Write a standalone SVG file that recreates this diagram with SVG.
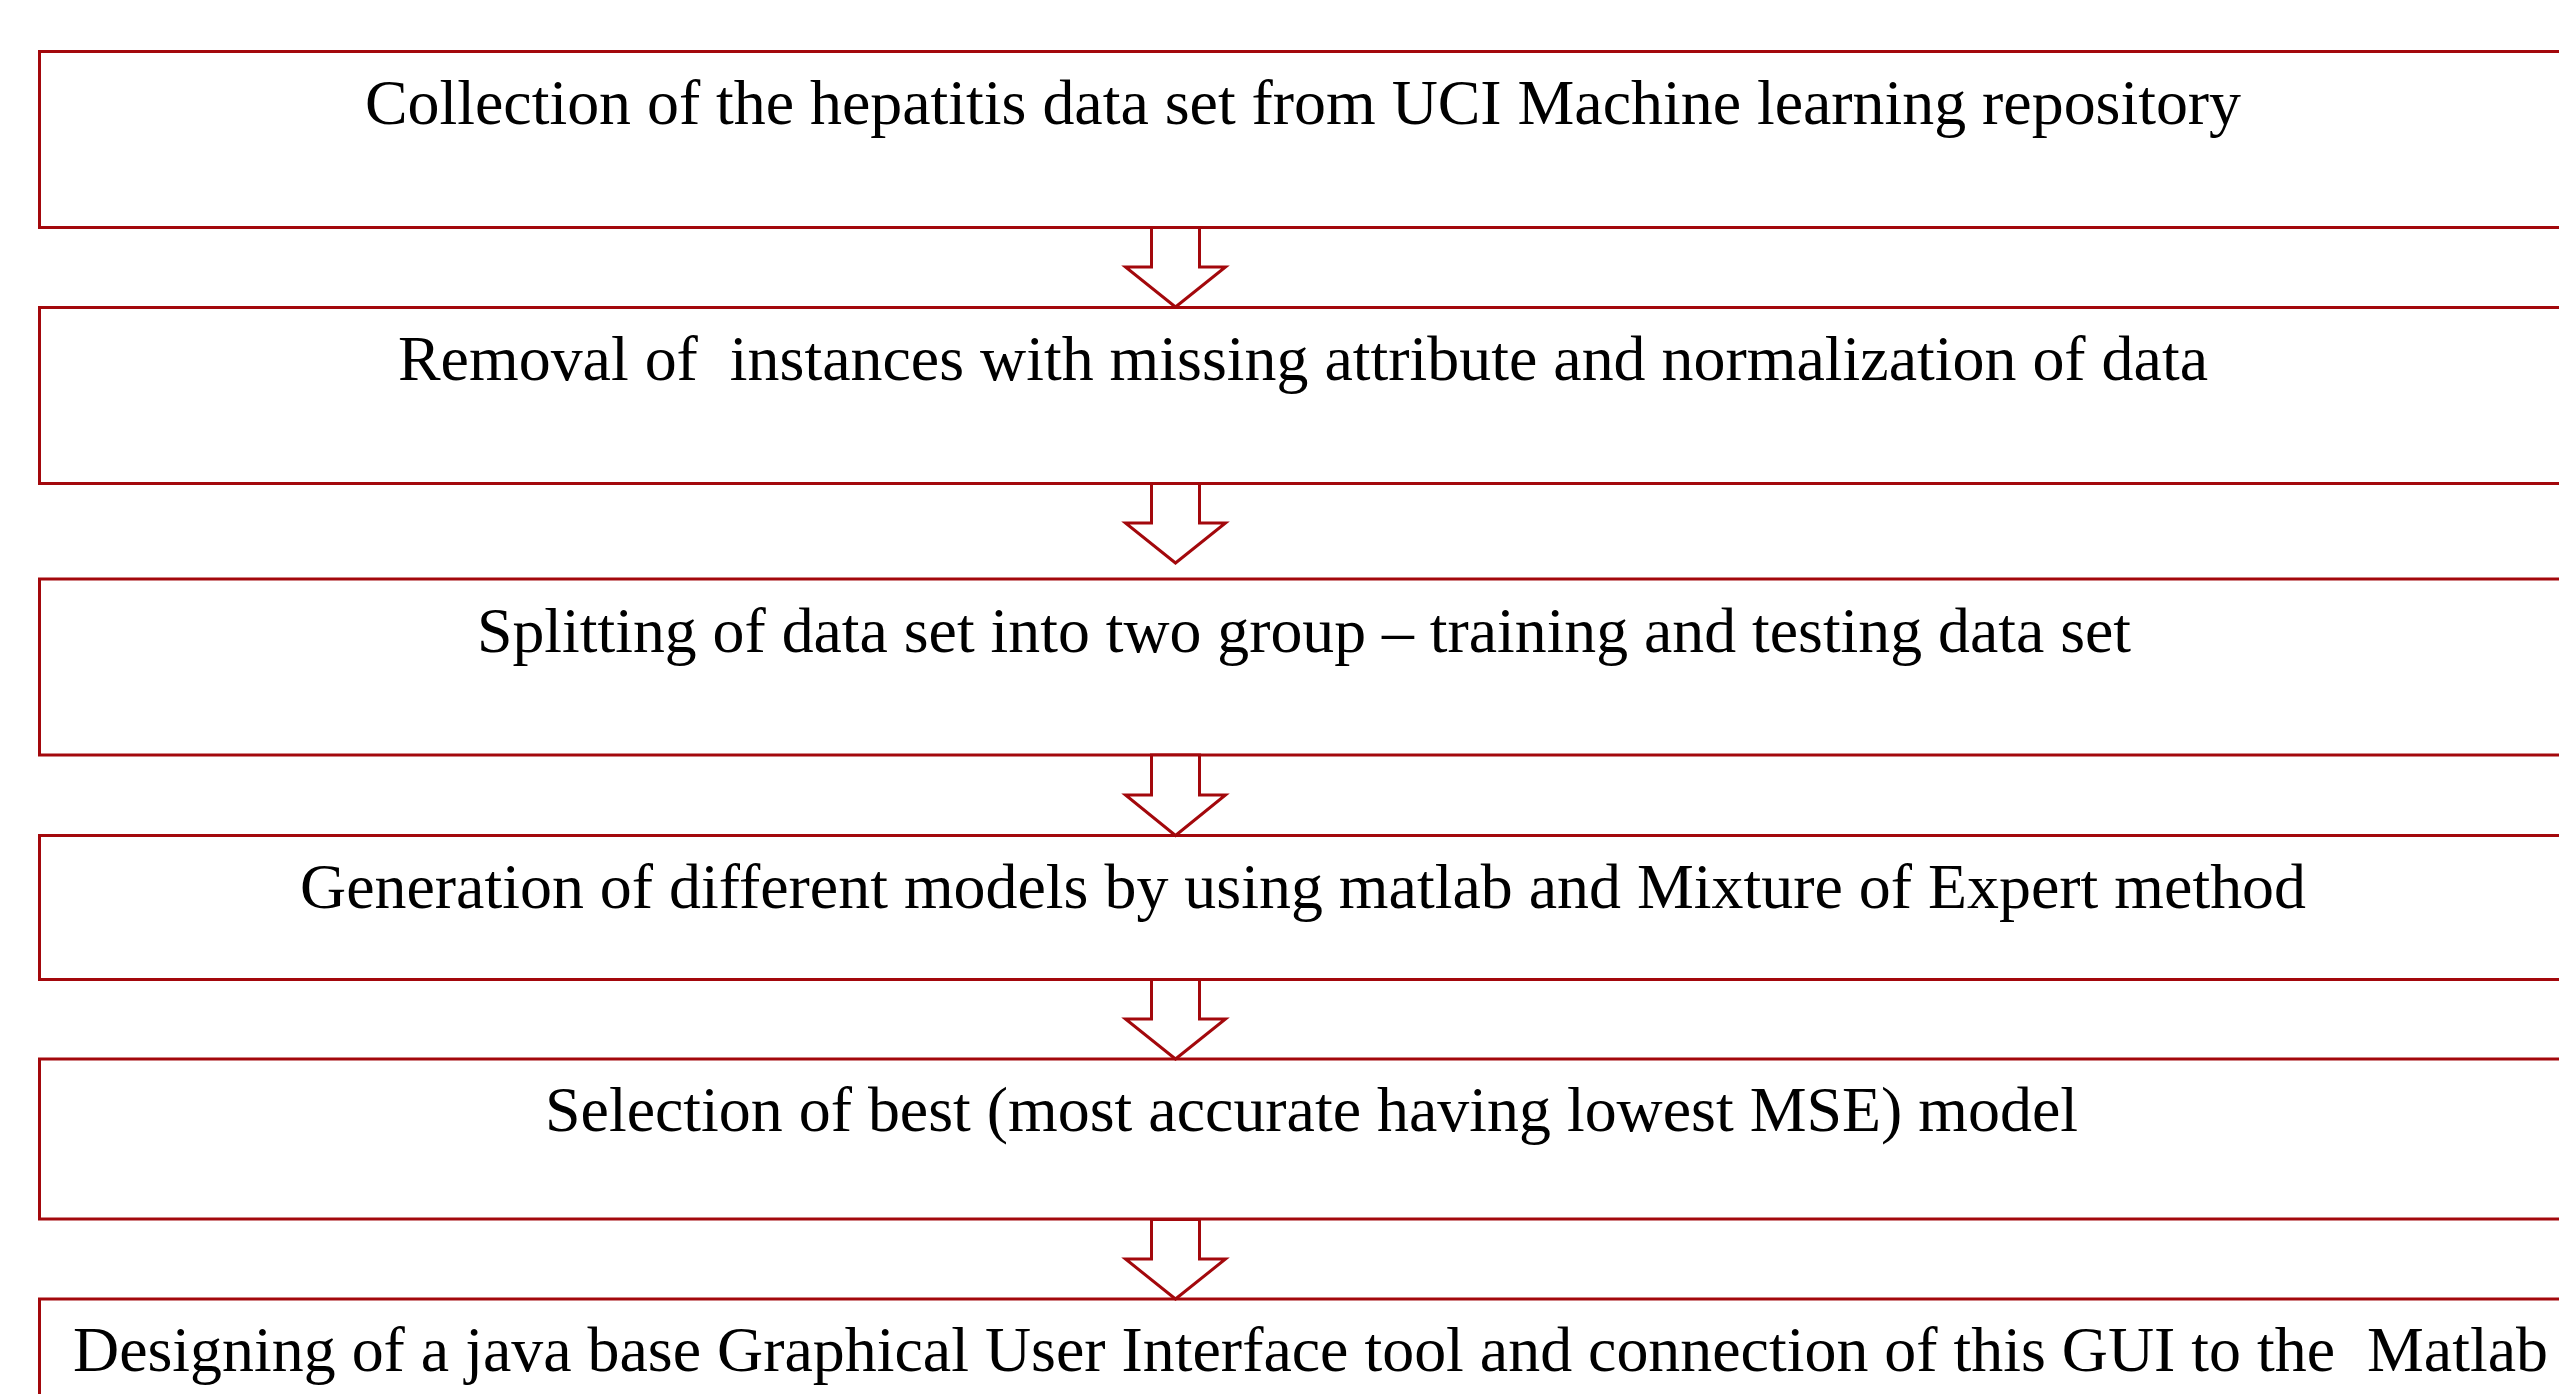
<svg xmlns="http://www.w3.org/2000/svg" width="2559" height="1394" viewBox="0 0 2559 1394">
<style>
.box{fill:#ffffff;stroke:#a3080c;stroke-width:3}
.arr{fill:#ffffff;stroke:#a3080c;stroke-width:3;stroke-linejoin:miter}
.t{font-family:"Liberation Serif","Times New Roman",serif;font-size:64px;fill:#000000}
</style>
<rect width="2559" height="1394" fill="#ffffff"/>
<g id="node1"><rect class="box" x="39.5" y="51.5" width="2560" height="176"/><text class="t" x="365" y="123.5" textLength="1876" lengthAdjust="spacingAndGlyphs">Collection of the hepatitis data set from UCI Machine learning repository</text></g>
<g id="node2"><rect class="box" x="39.5" y="307.5" width="2560" height="176"/><text class="t" x="398" y="379.5" xml:space="preserve" textLength="1810" lengthAdjust="spacingAndGlyphs">Removal of  instances with missing attribute and normalization of data</text></g>
<g id="node3"><rect class="box" x="39.5" y="579" width="2560" height="176"/><text class="t" x="477" y="651.5" textLength="1654" lengthAdjust="spacingAndGlyphs">Splitting of data set into two group – training and testing data set</text></g>
<g id="node4"><rect class="box" x="39.5" y="835.5" width="2560" height="144"/><text class="t" x="300" y="908" textLength="2006" lengthAdjust="spacingAndGlyphs">Generation of different models by using matlab and Mixture of Expert method</text></g>
<g id="node5"><rect class="box" x="39.5" y="1059" width="2560" height="160"/><text class="t" x="545" y="1131" textLength="1533" lengthAdjust="spacingAndGlyphs">Selection of best (most accurate having lowest MSE) model</text></g>
<g id="node6"><rect class="box" x="39.5" y="1299" width="2560" height="160"/><text class="t" x="73" y="1371" xml:space="preserve" textLength="2475" lengthAdjust="spacingAndGlyphs">Designing of a java base Graphical User Interface tool and connection of this GUI to the  Matlab</text></g>
<g id="connectors">
<polygon class="arr" points="1151.5,227.5 1199.5,227.5 1199.5,267 1225.5,267 1175.5,307 1125.5,267 1151.5,267"/>
<polygon class="arr" points="1151.5,483.5 1199.5,483.5 1199.5,523 1225.5,523 1175.5,563 1125.5,523 1151.5,523"/>
<polygon class="arr" points="1151.5,755 1199.5,755 1199.5,795 1225.5,795 1175.5,835.5 1125.5,795 1151.5,795"/>
<polygon class="arr" points="1151.5,979.5 1199.5,979.5 1199.5,1019 1225.5,1019 1175.5,1059 1125.5,1019 1151.5,1019"/>
<polygon class="arr" points="1151.5,1219.5 1199.5,1219.5 1199.5,1259 1225.5,1259 1175.5,1299 1125.5,1259 1151.5,1259"/>
</g>
</svg>
